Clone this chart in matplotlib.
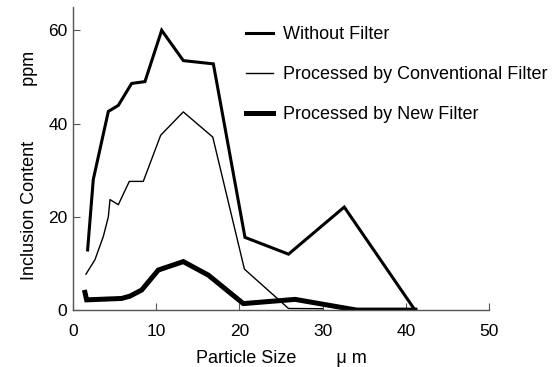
import matplotlib
matplotlib.use("Agg")
import matplotlib.pyplot as plt

plt.rcParams['font.family'] = ['Liberation Sans', 'DejaVu Sans']

# Without Filter
x_none = [1.76, 2.44, 4.25, 5.45, 7.05, 8.65, 10.66, 13.26, 16.87, 20.67, 25.9, 32.6, 41.1]
y_none = [12.9, 28.0, 42.6, 43.9, 48.6, 49.0, 60.0, 53.5, 52.8, 15.6, 12.0, 22.1, 0.0]

# Processed by Conventional Filter
x_conv = [1.56, 2.64, 3.65, 4.25, 4.45, 5.45, 6.77, 8.45, 10.54, 13.26, 16.8, 20.6, 25.9, 30.0]
y_conv = [7.7, 10.8, 15.8, 20.0, 23.7, 22.6, 27.6, 27.6, 37.5, 42.5, 37.1, 8.8, 0.35, 0.3]

# Processed by New Filter
x_new = [1.44, 1.64, 5.85, 6.85, 8.25, 10.26, 13.26, 16.27, 20.47, 26.7, 34.1, 41.1]
y_new = [3.8, 2.2, 2.5, 3.0, 4.3, 8.6, 10.4, 7.5, 1.4, 2.3, 0.0, 0.0]

fig = plt.figure(figsize=(5.57, 3.67), dpi=100)
ax = fig.add_axes([0.131, 0.155, 0.747, 0.826])

ax.plot(x_none, y_none, color='black', lw=2.2, label='Without Filter', solid_joinstyle='miter')
ax.plot(x_conv, y_conv, color='black', lw=1.0, label='Processed by Conventional Filter')
ax.plot(x_new, y_new, color='black', lw=3.6, label='Processed by New Filter', solid_joinstyle='miter')

ax.set_xlim(0, 50)
ax.set_ylim(0, 65)
ax.set_xticks([0, 10, 20, 30, 40, 50])
ax.set_yticks([0, 20, 40, 60])
ax.spines['top'].set_visible(False)
ax.spines['right'].set_visible(False)
for s in ['left', 'bottom']:
    ax.spines[s].set_color('#555555')
    ax.spines[s].set_linewidth(1.0)
ax.tick_params(direction='in', length=5, color='#555555', labelsize=12.5)
ax.tick_params(axis='x', pad=10)
ax.tick_params(axis='y', pad=4)

ax.set_xlabel('Particle Size        μ m', fontsize=13)
ax.xaxis.set_label_coords(0.501, -0.132)
ax.set_ylabel('Inclusion Content           ppm', fontsize=13)
ax.yaxis.set_label_coords(-0.085, 0.477)

ax.legend(loc='upper left', bbox_to_anchor=(0.395, 0.967), frameon=False, fontsize=13,
          borderpad=0, handlelength=1.5, handletextpad=0.55, labelspacing=1.28)

fig.savefig('out.png', dpi=100)
